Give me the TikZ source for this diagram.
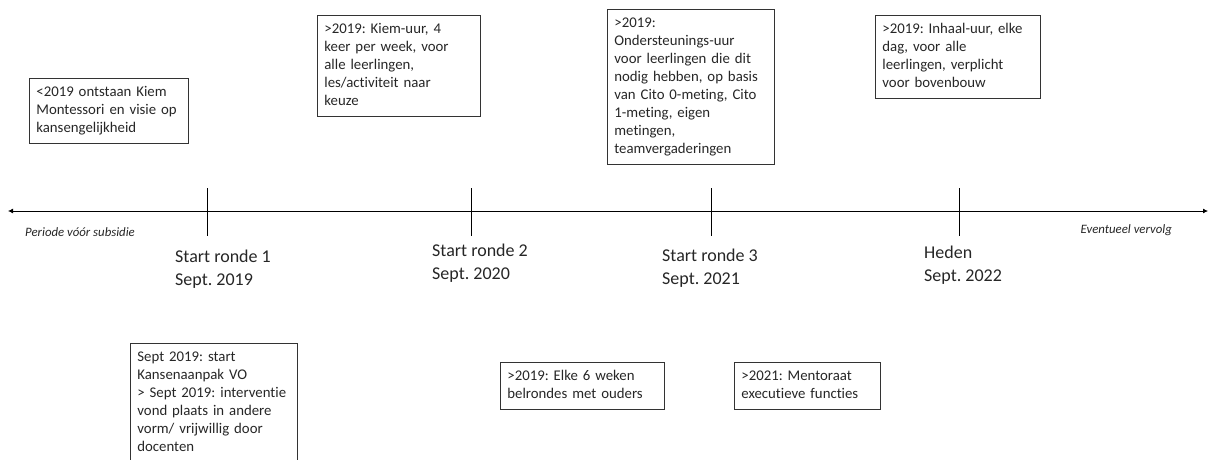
\documentclass[tikz,border=0pt]{standalone}
\usepackage{fontspec}
\setmainfont{Carlito}[Ligatures=NoCommon]
\usetikzlibrary{math,arrows.meta,positioning}
\frenchspacing
\hyphenpenalty=10000
\tikzset{
  eventbox/.style={draw=black!80, line width=0.8pt, anchor=north west, align=left, inner xsep=7pt, inner ysep=5.5pt, text=black!85, font=\fontsize{14.8}{18}\selectfont},
  datelabel/.style={anchor=north west, align=left, inner sep=0pt, text=black!85, font=\fontsize{18}{22.5}\selectfont},
  sidenote/.style={inner sep=0pt, text=black!85, font=\fontsize{12.8}{15}\selectfont\itshape}
}

\begin{document}
\begin{tikzpicture}[x=1pt,y=-1pt]
      \tikzmath{\ay = 211; \up = -23; \down = 25;}
      \useasboundingbox (0,0) rectangle (1215,460);
      \coordinate (west) at (8,\ay);
      \coordinate (east) at (1208,\ay);
      \draw[line width=0.8pt, {Latex[length=5pt,width=5pt]}-{Latex[length=5pt,width=5pt]}] (west) -- (east);
      \draw[shift={(207,\ay)}, line width=0.8pt] (0,\up) -- (0,\down);
      \draw[shift={(471,\ay)}, line width=0.8pt] (0,\up) -- (0,\down);
      \draw[shift={(711,\ay)}, line width=0.8pt] (0,\up) -- (0,\down);
      \draw[shift={(959,\ay)}, line width=0.8pt] (0,\up) -- (0,\down);
      \node[sidenote, anchor=west] (voor) at (25,232) {Periode vóór subsidie};
      \node[sidenote, anchor=east] (vervolg) at (1172,230) {Eventueel vervolg};
      \node[datelabel] (ronde1) at (175,247) {\strut Start ronde 1\\Sept. 2019\strut};
      \node[datelabel] (ronde2) at (432,241) {\strut Start ronde 2\\Sept. 2020\strut};
      \node[datelabel] (ronde3) at (662,246) {\strut Start ronde 3\\Sept. 2021\strut};
      \node[datelabel] (heden) at (924,243) {\strut Heden\\Sept. 2022\strut};
      \node[eventbox, text width=145pt] (ontstaan) at (29,78) {\strut<2019 ontstaan Kiem\\Montessori en visie op\\kansengelijkheid\strut};
      \node[eventbox, text width=149pt] (kiemuur) at (317,15) {\strut>2019: Kiem-uur, 4\\keer per week, voor\\alle leerlingen,\\les/activiteit naar\\keuze\strut};
      \node[eventbox, text width=153pt] (ondersteuning) at (607,9) {\strut>2019:\\Ondersteunings-uur\\voor leerlingen die dit\\nodig hebben, op basis\\van Cito 0-meting, Cito\\1-meting, eigen\\metingen,\\teamvergaderingen\strut};
      \node[eventbox, text width=151pt] (inhaal) at (875,15) {\strut>2019: Inhaal-uur, elke\\dag, voor alle\\leerlingen, verplicht\\voor bovenbouw\strut};
      \node[eventbox, text width=153pt] (aanpak) at (130,343) {\strut Sept 2019: start\\Kansenaanpak VO\\> Sept 2019: interventie\\vond plaats in andere\\vorm/ vrijwillig door\\docenten\strut};
      \node[eventbox, text width=150pt] (belrondes) at (500,362) {\strut>2019: Elke 6 weken\\belrondes met ouders\strut};
      \node[eventbox, text width=132pt] (mentoraat) at (734,362) {\strut>2021: Mentoraat\\executieve functies\strut};
\end{tikzpicture}
\end{document}
